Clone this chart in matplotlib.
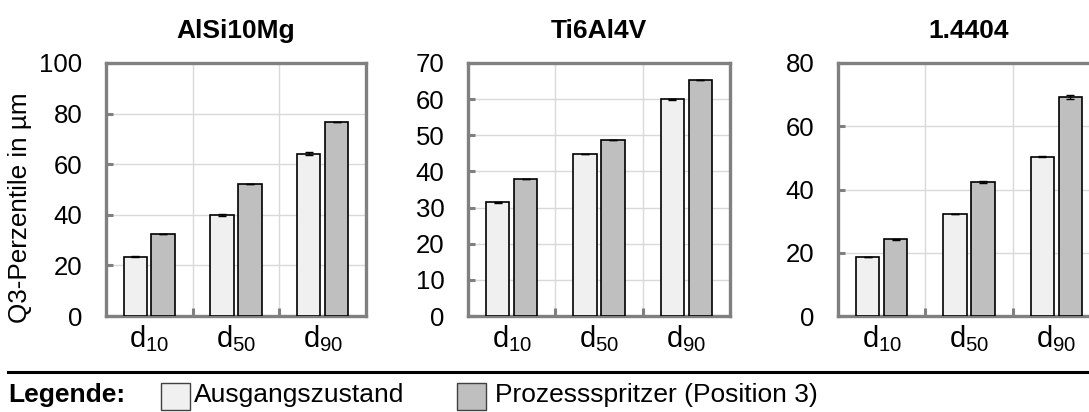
import matplotlib
matplotlib.use("Agg")
import matplotlib.pyplot as plt
from matplotlib.patches import Rectangle
from matplotlib.lines import Line2D
from matplotlib.ticker import FixedLocator
import numpy as np

plt.rcParams['font.family'] = ['Liberation Sans', 'DejaVu Sans']
plt.rcParams['mathtext.fontset'] = 'custom'
plt.rcParams['mathtext.rm'] = 'Liberation Sans'

categories = [r'$\mathrm{d}_{10}$', r'$\mathrm{d}_{50}$', r'$\mathrm{d}_{90}$']
materials = ['AlSi10Mg', 'Ti6Al4V', '1.4404']
series_names = ['Ausgangszustand', 'Prozessspritzer (Position 3)']

alsi_initial = [23.4, 40.0, 64.2]
alsi_initial_err = [0.15, 0.4, 0.7]
alsi_spatter = [32.4, 52.2, 76.6]
alsi_spatter_err = [0.0, 0.0, 0.0]

ti_initial = [31.5, 44.8, 60.0]
ti_initial_err = [0.15, 0.1, 0.1]
ti_spatter = [37.9, 48.6, 65.2]
ti_spatter_err = [0.0, 0.0, 0.0]

ss_initial = [18.7, 32.3, 50.4]
ss_initial_err = [0.1, 0.1, 0.1]
ss_spatter = [24.3, 42.4, 69.2]
ss_spatter_err = [0.2, 0.3, 0.6]

y_limits = [100, 70, 80]
y_steps = [20, 10, 20]

initial_data = [alsi_initial, ti_initial, ss_initial]
initial_errs = [alsi_initial_err, ti_initial_err, ss_initial_err]
spatter_data = [alsi_spatter, ti_spatter, ss_spatter]
spatter_errs = [alsi_spatter_err, ti_spatter_err, ss_spatter_err]

c_light = '#F0F0F0'
c_dark = '#BFBFBF'
spine_c = '#808080'
grid_c = '#D9D9D9'

W, H = 1089, 412
fig = plt.figure(figsize=(W / 100, H / 100), dpi=100)

lefts = [106, 468, 838]
widths = [260, 262, 262]
ax_top, ax_bot = 63, 316

x = np.arange(len(categories))
bw = 0.27
off = 0.16

for i in range(3):
    ax = fig.add_axes([lefts[i] / W, (H - ax_bot) / H, widths[i] / W, (ax_bot - ax_top) / H])
    ax.bar(x - off, initial_data[i], bw, color=c_light, edgecolor='black', linewidth=1.2, zorder=3,
           yerr=initial_errs[i], error_kw=dict(ecolor='black', elinewidth=1, capsize=3, capthick=1))
    ax.bar(x + off, spatter_data[i], bw, color=c_dark, edgecolor='black', linewidth=1.2, zorder=3,
           yerr=spatter_errs[i], error_kw=dict(ecolor='black', elinewidth=1, capsize=3, capthick=1))
    ax.set_xlim(-0.5, 2.5)
    ax.set_ylim(0, y_limits[i])
    ax.set_yticks(np.arange(0, y_limits[i] + 0.1, y_steps[i]))
    ax.set_xticks(x)
    ax.set_xticklabels(categories, fontsize=21)
    ax.xaxis.set_minor_locator(FixedLocator([0.5, 1.5]))
    ax.tick_params(axis='x', which='major', length=0, pad=5)
    ax.tick_params(axis='x', which='minor', direction='in', length=6, width=2.2, color=spine_c)
    ax.tick_params(axis='y', which='major', direction='in', length=5, width=2.2, color=spine_c,
                   labelsize=18.5, pad=17)
    ax.grid(True, axis='y', which='major', color=grid_c, linewidth=1, zorder=0)
    ax.grid(True, axis='x', which='minor', color=grid_c, linewidth=1, zorder=0)
    for s in ax.spines.values():
        s.set_color(spine_c)
        s.set_linewidth(2.4)
    ax.set_title(materials[i], fontsize=19, fontweight='bold', pad=18)
    if i == 0:
        ax.set_ylabel('Q3-Perzentile in µm', fontsize=18.8)
        ax.yaxis.set_label_coords(-0.285, 0.43)

# separator line
fig.add_artist(Line2D([8 / W, 1.0], [(H - 372) / H, (H - 372) / H], color='black', linewidth=2.2))

# legend
ty = (H - 395) / H
fig.text(8 / W, ty, 'Legende:', fontsize=19, fontweight='bold', va='center', ha='left')
patch_x = [161, 457]
text_x = [194, 495]
colors = [c_light, c_dark]
for px, tx, col, name in zip(patch_x, text_x, colors, series_names):
    fig.add_artist(Rectangle((px / W, (H - 410) / H), 29 / W, 27 / H, transform=fig.transFigure,
                             facecolor=col, edgecolor='#404040', linewidth=1))
    fig.text(tx / W, ty, name, fontsize=19, va='center', ha='left')

fig.savefig('out.png', dpi=100)
